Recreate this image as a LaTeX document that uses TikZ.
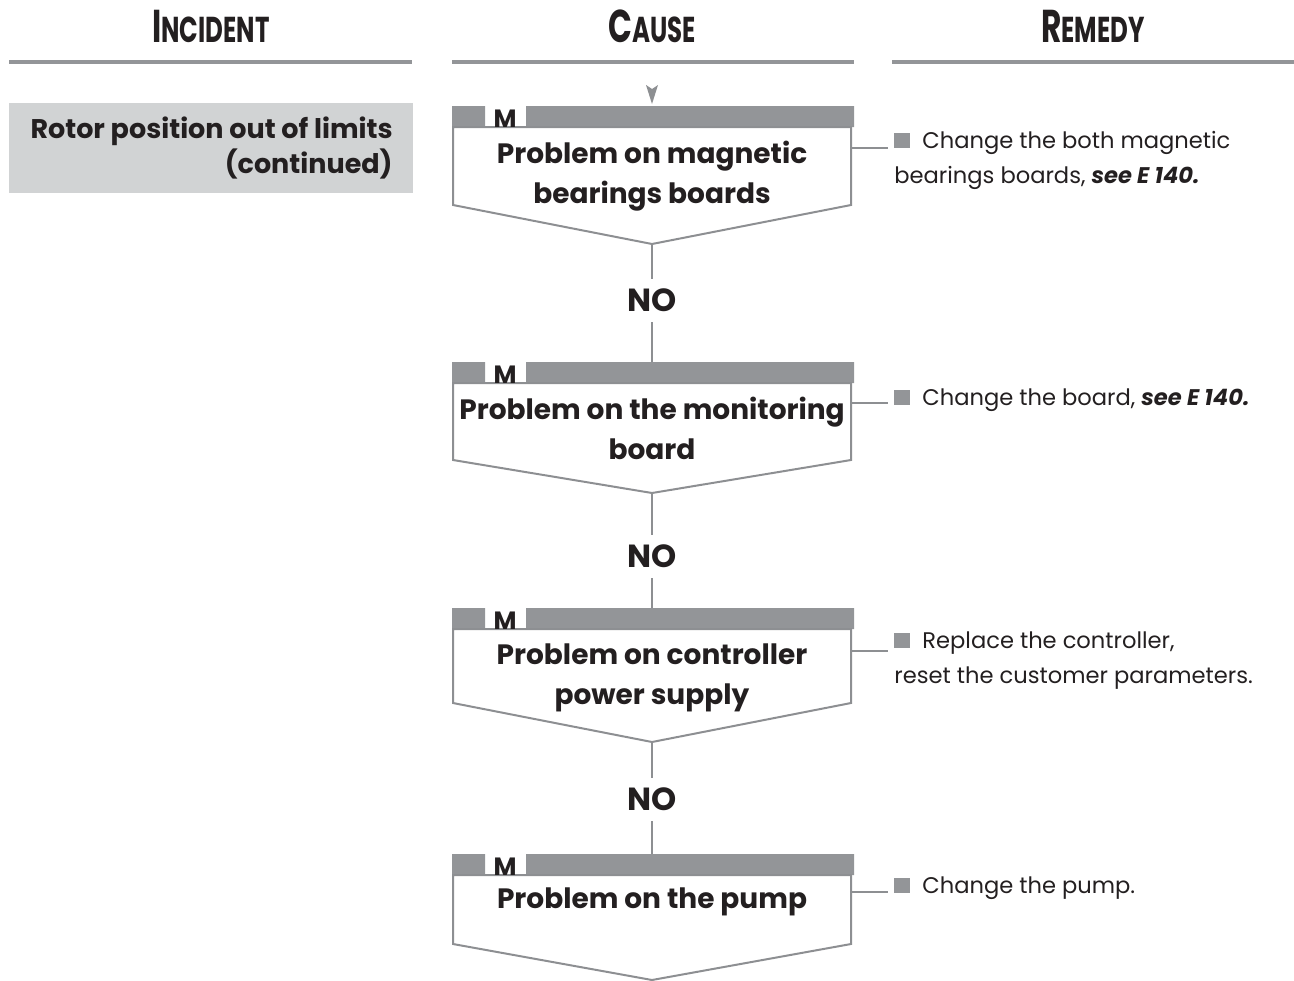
\documentclass[tikz,border=0pt]{standalone}
\usepackage{fontspec}
\setmainfont{Poppins}
\newfontfamily\headfont[FakeStretch=0.68]{Poppins}
\usetikzlibrary{positioning}

\definecolor{bargray}{HTML}{939598}
\definecolor{linegray}{HTML}{8D8F92}
\definecolor{incfill}{HTML}{D1D3D4}
\definecolor{inkblack}{HTML}{231F20}

% grey square in front of each remedy
\newcommand{\remsq}{\textcolor{bargray}{\rule{8pt}{7.5pt}}\hspace{6pt}}
% header in fake small capitals
\newcommand{\headcaps}[2]{{\fontsize{23}{23}\selectfont #1}{\fontsize{18}{18}\selectfont #2}}

% one cause box: name, bar top, end of sides, tip
\newcommand{\causebox}[4]{%
  \fill[bargray] (452,#2) rectangle (485,#2+21) (526,#2) rectangle (854,#2+21);
  \draw[outline] (453,#2+21) -- (453,#3) -- (652,#4) -- (851,#3) -- (851,#2+21) -- cycle;
  \node[mlabel] at (505,#2+21) {M};
  \coordinate (#1top) at (652,#2);
  \coordinate (#1tip) at (652,#4);
}

\tikzset{
  rulebar/.style={bargray, line width=1.6pt},
  outline/.style={linegray, line width=1pt},
  conn/.style={linegray, line width=1pt},
  headtext/.style={anchor=base, text=inkblack, font=\headfont\bfseries},
  mlabel/.style={anchor=base, text=inkblack, inner sep=0pt, font=\bfseries\fontsize{12.5}{12.5}\selectfont},
  causetext/.style={anchor=base, align=center, text=inkblack, font=\bfseries\fontsize{14}{20}\selectfont},
  inctext/.style={anchor=base east, align=right, inner sep=0pt, text=inkblack, font=\bfseries\fontsize{13.5}{17.5}\selectfont},
  nolabel/.style={text=inkblack, inner xsep=2pt, inner ysep=5pt, text depth=0pt, font=\bfseries\fontsize{16}{16}\selectfont},
  remtext/.style={anchor=base west, align=left, inner sep=3pt, text=inkblack, font=\fontsize{11.3}{17.5}\selectfont},
}

\begin{document}
\begin{tikzpicture}[x=0.5pt, y=-0.5pt]
\useasboundingbox (0,0) rectangle (1294,980);

% column headers
\node[headtext] (hinc) at (211,42) {\headcaps{I}{NCIDENT}};
\node[headtext] (hcau) at (652,42) {\headcaps{C}{AUSE}};
\node[headtext] (hrem) at (1093,42) {\headcaps{R}{EMEDY}};
\draw[rulebar] (9,62) -- (412,62);
\draw[rulebar] (452,62) -- (854,62);
\draw[rulebar] (892,62) -- (1294,62);

% incident
\fill[incfill] (9,103) rectangle (413,193);
\node[inctext] (incident) at (393,173) {Rotor position out of limits\\(continued)};

% entry arrow
\fill[linegray] (646,85) -- (652,89) -- (658,85) -- (652,104) -- cycle;

% causes
\causebox{c1}{106}{205}{244}
\causebox{c2}{362}{460}{493}
\causebox{c3}{608}{703}{742}
\causebox{c4}{854}{944}{980}

\node[causetext] (cause1) at (652,203) {Problem on magnetic\\bearings boards};
\node[causetext] (cause2) at (652,459) {Problem on the monitoring\\board};
\node[causetext] (cause3) at (652,704) {Problem on controller\\power supply};
\node[causetext] (cause4) at (652,908) {Problem on the pump};

% NO branches
\node[nolabel] (no1) at (652,300.5) {NO};
\node[nolabel] (no2) at (652,556.5) {NO};
\node[nolabel] (no3) at (652,799.5) {NO};
\draw[conn] (c1tip) -- (no1);
\draw[conn] (no1) -- (c2top);
\draw[conn] (c2tip) -- (no2);
\draw[conn] (no2) -- (c3top);
\draw[conn] (c3tip) -- (no3);
\draw[conn] (no3) -- (c4top);

% remedies
\node[remtext] (rem1) at (888,183) {\remsq Change the both magnetic\\bearings boards, \textbf{\textit{see E 140.}}};
\node[remtext] (rem2) at (888,405) {\remsq Change the board, \textbf{\textit{see E 140.}}};
\node[remtext] (rem3) at (888,683) {\remsq Replace the controller,\\reset the customer parameters.};
\node[remtext] (rem4) at (888,893) {\remsq Change the pump.};
\coordinate (s1) at (851,148);
\coordinate (s2) at (851,403);
\coordinate (s3) at (851,651);
\coordinate (s4) at (851,892);
\draw[conn] (s1) -- (s1 -| rem1.west);
\draw[conn] (s2) -- (s2 -| rem2.west);
\draw[conn] (s3) -- (s3 -| rem3.west);
\draw[conn] (s4) -- (s4 -| rem4.west);
\end{tikzpicture}
\end{document}
